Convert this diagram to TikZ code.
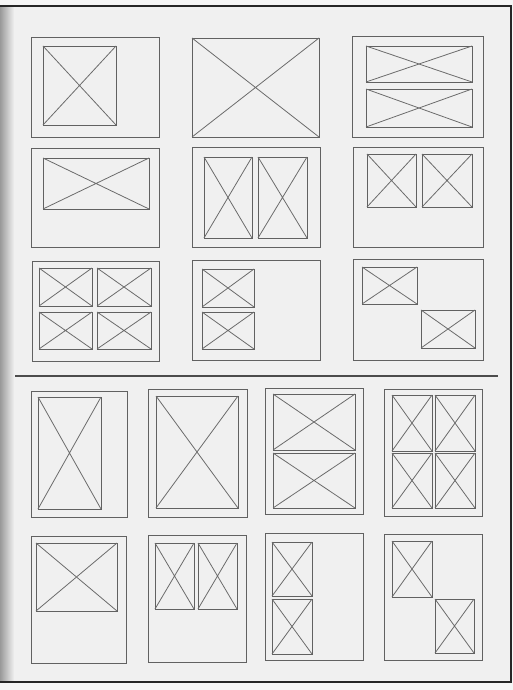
\documentclass[tikz,border=0pt]{standalone}
\begin{document}
\begin{tikzpicture}[x=1pt,y=-1pt,
  frame/.style={draw=black!62,line width=1pt},
  cell/.style={draw=black!62,line width=0.9pt},
  cross/.style={draw=black!58,line width=0.8pt},
  rule/.style={draw=black!70,line width=1.1pt},
  edge/.style={draw=black!85,line width=1.6pt}]
\newcommand\phcell[4]{%
  \draw[cell] (#1,#2) rectangle (#3,#4);
  \draw[cross] (#1,#2) -- (#3,#4) (#1,#4) -- (#3,#2);}
\useasboundingbox (0,0) rectangle (513,690);
% page
\fill[white!96!black] (0,0) rectangle (513,690);
\fill[black!6] (0,6) rectangle (511,681);
\shade[left color=black!40,right color=black!6] (0,6) rectangle (14,681);
\draw[edge] (0,6) -- (512,6);
\draw[edge] (511,6) -- (511,681);
\draw[edge] (0,682) -- (512,682);
% separator
\draw[rule] (15,376) -- (498,376);
% ---- row 1
\draw[frame] (31,38) rectangle (159,137);
\phcell{43}{46}{116}{125}
\phcell{192}{38}{319}{137}
\draw[frame] (352,37) rectangle (483,137);
\phcell{366}{46}{472}{82}
\phcell{366}{89}{472}{127}
% ---- row 2
\draw[frame] (31,148) rectangle (159,247);
\phcell{43}{158}{149}{209}
\draw[frame] (192,147) rectangle (320,247);
\phcell{204}{157}{252}{238}
\phcell{258}{157}{307}{238}
\draw[frame] (353,147) rectangle (483,247);
\phcell{367}{154}{416}{207}
\phcell{422}{154}{472}{207}
% ---- row 3
\draw[frame] (32,261) rectangle (159,361);
\phcell{39}{268}{92}{306}
\phcell{97}{268}{151}{306}
\phcell{39}{312}{92}{349}
\phcell{97}{312}{151}{349}
\draw[frame] (192,260) rectangle (320,360);
\phcell{202}{269}{254}{307}
\phcell{202}{312}{254}{349}
\draw[frame] (353,259) rectangle (483,360);
\phcell{362}{267}{417}{304}
\phcell{421}{310}{475}{348}
% ---- row 4
\draw[frame] (31,391) rectangle (127,517);
\phcell{38}{397}{101}{509}
\draw[frame] (148,389) rectangle (247,517);
\phcell{156}{396}{238}{508}
\draw[frame] (265,388) rectangle (363,514);
\phcell{273}{394}{355}{450}
\phcell{273}{453}{355}{508}
\draw[frame] (384,389) rectangle (482,516);
\phcell{392}{395}{432}{451}
\phcell{435}{395}{475}{451}
\phcell{392}{453}{432}{508}
\phcell{435}{453}{475}{508}
% ---- row 5
\draw[frame] (31,536) rectangle (126,663);
\phcell{36}{543}{117}{611}
\draw[frame] (148,535) rectangle (246,662);
\phcell{155}{543}{194}{609}
\phcell{198}{543}{237}{609}
\draw[frame] (265,533) rectangle (363,660);
\phcell{272}{542}{312}{596}
\phcell{272}{599}{312}{654}
\draw[frame] (384,534) rectangle (482,660);
\phcell{392}{541}{432}{597}
\phcell{435}{599}{474}{653}
\end{tikzpicture}
\end{document}
